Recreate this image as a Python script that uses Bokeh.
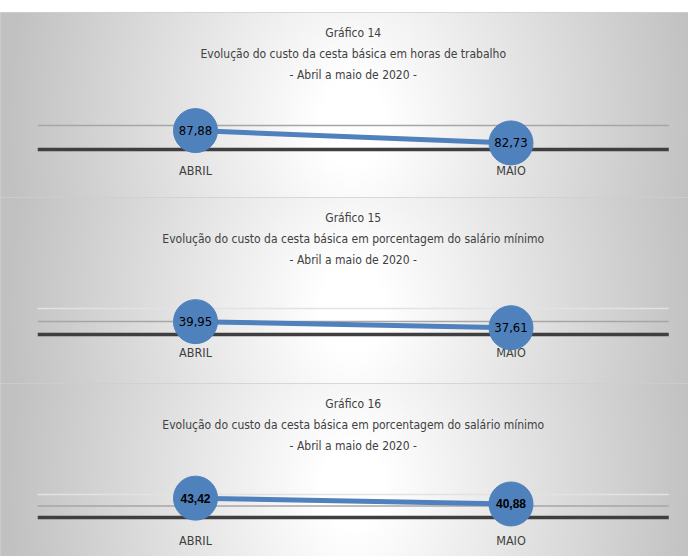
import numpy as np
from bokeh.plotting import figure
from bokeh.layouts import column
from bokeh.models import Range1d, Spacer
from bokeh.core.properties import value
from bokeh.embed import file_html
from bokeh.resources import INLINE

# ---------------- data ----------------
meses = ["ABRIL", "MAIO"]

titulo_14 = ["Gráfico 14",
             "Evolução do custo da cesta básica em horas de trabalho",
             "- Abril a maio de 2020 -"]
valores_14 = [87.88, 82.73]
eixo_min_14 = 80
grades_14 = [90]

titulo_15 = ["Gráfico 15",
             "Evolução do custo da cesta básica em porcentagem do salário mínimo",
             "- Abril a maio de 2020 -"]
valores_15 = [39.95, 37.61]
eixo_min_15 = 35
grades_15 = [40, 45]

titulo_16 = ["Gráfico 16",
             "Evolução do custo da cesta básica em porcentagem do salário mínimo",
             "- Abril a maio de 2020 -"]
valores_16 = [43.42, 40.88]
eixo_min_16 = 35
grades_16 = [40, 45]

# ---------------- styling / layout ----------------
W = 688
X_FIRST_PX = 195.0
X_STEP_PX = 315.5
NARROW = "'Liberation Sans Narrow', 'DejaVu Sans Condensed', sans-serif"
BLUE = "#4f81bd"
TXT = "#404040"
GRID_COLORS = ["#a6a6a6", "#e2e2e2"]

x0 = -X_FIRST_PX / X_STEP_PX
x1 = x0 + W / X_STEP_PX


def background(h):
    nx, ny = 230, max(2, h // 3)
    px = (np.arange(nx) + 0.5) * W / nx
    py_top = h - (np.arange(ny) + 0.5) * h / ny  # row 0 = bottom
    U, V = np.meshgrid((px - 352) / 340.0, (py_top - h * 0.6) / 450.0)
    r = np.sqrt(U ** 2 + V ** 2)
    t = np.clip((r - 0.1) / 0.92, 0, 1)
    g = (255 - 62 * t).astype(np.uint8)
    rgba = np.zeros((ny, nx, 4), dtype=np.uint8)
    rgba[..., 0] = g
    rgba[..., 1] = g
    rgba[..., 2] = g
    rgba[..., 3] = 255
    return rgba.view(np.uint32).reshape(ny, nx)


def panel(titulo, valores, eixo_min, grades, h, base_px_top, unit_px, lbl_off,
          val_font, val_size, val_bold):
    y0 = eixo_min - (h - base_px_top) / unit_px
    y1 = y0 + h / unit_px
    p = figure(width=W, height=h, x_range=Range1d(x0, x1), y_range=Range1d(y0, y1),
               output_backend="svg", toolbar_location=None,
               x_axis_location=None, y_axis_location=None, min_border=0)
    p.grid.visible = False
    p.outline_line_color = "#cfcfcf"
    p.outline_line_width = 2
    p.background_fill_color = "white"
    p.border_fill_color = "white"

    p.image_rgba(image=[background(h)], x=x0, y=y0, dw=x1 - x0, dh=y1 - y0)

    n = len(meses)
    xs = list(range(n))
    gx0, gx1 = -0.5, n - 0.5
    for i, gv in enumerate(grades):
        p.segment(x0=gx0, y0=gv, x1=gx1, y1=gv,
                  line_color=GRID_COLORS[min(i, 1)], line_width=1.5)
    p.segment(x0=gx0, y0=eixo_min, x1=gx1, y1=eixo_min,
              line_color="#3f3f3f", line_width=3.5)

    # category labels
    p.text(x=xs, y=[eixo_min - lbl_off / unit_px] * n, text=meses,
           text_align="center", text_baseline="middle",
           text_font=value(NARROW), text_font_size="12.5px", text_color=TXT)

    # title lines
    for line, top in zip(titulo, [20, 41, 62]):
        p.text(x=[(n - 1) / 2], y=[y1 - top / unit_px], text=[line],
               text_align="center", text_baseline="middle",
               text_font=value(NARROW), text_font_size="12px", text_color=TXT)

    p.line(xs, valores, line_color=BLUE, line_width=5)
    p.scatter(xs, valores, size=44, marker="circle", fill_color=BLUE, line_color=BLUE)
    rot = [f"{v:.2f}".replace(".", ",") for v in valores]
    p.text(x=xs, y=valores, text=rot, text_align="center", text_baseline="middle",
           text_font=value(val_font), text_font_size=val_size,
           text_font_style="bold" if val_bold else "normal", text_color="black")
    return p


p1 = panel(titulo_14, valores_14, eixo_min_14, grades_14, 185, 137, 2.4, 21,
           NARROW, "13px", False)
p2 = panel(titulo_15, valores_15, eixo_min_15, grades_15, 186, 137, 2.6, 18,
           NARROW, "13px", False)
p3 = panel(titulo_16, valores_16, eixo_min_16, grades_16, 173, 134, 2.3, 23,
           "Liberation Sans", "12px", True)

layout = column(Spacer(width=W, height=12), p1, p2, p3)
open("out.html", "w").write(file_html(layout, INLINE))
